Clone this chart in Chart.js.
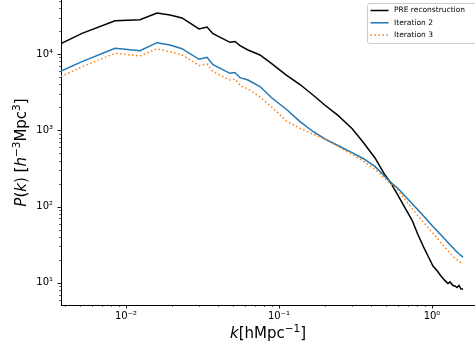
<!DOCTYPE html>
<html>
<head>
<meta charset="utf-8">
<script src="https://cdn.jsdelivr.net/npm/chart.js@4/dist/chart.umd.min.js"></script>
<style>
html, body { margin: 0; padding: 0; background: #fff; }
#wrap { width: 475px; height: 349px; }
</style>
</head>
<body>
<div id="wrap"><canvas id="pkChart" width="475" height="349"></canvas></div>
<script>
// wavenumber bins k [h/Mpc]
const kValues = [0.00376, 0.00516, 0.00848, 0.01234, 0.01594, 0.01939, 0.02323, 0.0300, 0.03383, 0.03704,
	0.04782, 0.05159, 0.05563, 0.06271, 0.0751, 0.090, 0.1111, 0.1372, 0.1668, 0.1998,
	0.2429, 0.2999, 0.354, 0.4241, 0.493, 0.5314, 0.5995, 0.6662, 0.7402, 0.810,
	0.8865, 0.9417, 1.015, 1.078, 1.145, 1.216, 1.272, 1.311, 1.372, 1.413,
	1.457, 1.502, 1.547, 1.595];

// P(k) for each series
const preRecon = [13650, 18660, 27300, 28180, 34450, 32430, 29640, 21280, 22600, 18450,
	14230, 14580, 12850, 11280, 9700, 7400, 5310, 3980, 2900, 2130,
	1565, 1057, 703, 434, 259, 212, 140, 96, 66.7, 42.8,
	28.7, 22.5, 16.6, 14.5, 12.3, 10.7, 9.8, 10.3, 9.25, 9.1,
	8.7, 9.25, 8.3, 8.3];
const iteration2 = [5990, 7930, 11880, 11050, 14060, 13120, 11730, 8520, 9060, 7240,
	5580, 5730, 4890, 4560, 3750, 2650, 1900, 1297, 964, 769,
	632, 509, 427, 336, 248, 212, 173, 138, 110, 90,
	74, 64.7, 54.8, 48.3, 42.5, 37.3, 33.9, 31.7, 28.8, 27.0,
	25.4, 23.9, 22.9, 21.7];
const iteration3 = [5040, 6820, 10200, 9420, 11700, 10700, 9700, 7090, 7400, 5880,
	4560, 4700, 3890, 3480, 2730, 2000, 1337, 1062, 889, 769,
	614, 482, 396, 311, 233, 202, 163, 124, 95, 75.7,
	61.1, 53.2, 44.7, 38.8, 33.6, 29.3, 26.4, 24.6, 22.2, 21.2,
	20.1, 19.2, 18.3, 17.5];

const seriesLabels = ['PRE reconstruction', 'Iteration 2', 'Iteration 3'];
const seriesColors = ['#000000', '#1f77b4', '#ff7f0e'];

const xTickValues = [0.01, 0.1, 1];
const xTickLabels = ['10\u207B\u00B2', '10\u207B\u00B9', '10\u2070'];
const yTickValues = [10, 100, 1000, 10000];
const yTickLabels = ['10\u00B9', '10\u00B2', '10\u00B3', '10\u2074'];

const FONT = '"DejaVu Sans", sans-serif';

function toPoints(vals) {
	return kValues.map((k, i) => ({ x: k, y: vals[i] }));
}

// draw a string made of plain / italic / superscript parts, centred on 0
function drawRich(ctx, parts, size) {
	let total = 0;
	parts.forEach(p => {
		ctx.font = (p.it ? 'italic ' : '') + (p.sup ? size * 0.7 : size) + 'px ' + FONT;
		p.w = ctx.measureText(p.t).width;
		total += p.w;
	});
	let x = -total / 2;
	parts.forEach(p => {
		ctx.font = (p.it ? 'italic ' : '') + (p.sup ? size * 0.7 : size) + 'px ' + FONT;
		ctx.fillText(p.t, x, p.sup ? -size * 0.42 : 0);
		x += p.w;
	});
}

const axisDecor = {
	id: 'axisDecor',
	afterDraw(chart) {
		const ctx = chart.ctx;
		const xs = chart.scales.x, ys = chart.scales.y;
		const area = chart.chartArea;
		ctx.save();
		ctx.strokeStyle = '#000';
		// tick marks, major + minor (log)
		for (let e = -3; e <= 1; e++) {
			for (let m = 1; m <= 9; m++) {
				const v = m * Math.pow(10, e);
				if (v < xs.min || v > xs.max) continue;
				const px = Math.round(xs.getPixelForValue(v)) + 0.5;
				ctx.lineWidth = m === 1 ? 0.9 : 0.6;
				ctx.beginPath();
				ctx.moveTo(px, area.bottom);
				ctx.lineTo(px, area.bottom + (m === 1 ? 3.5 : 2));
				ctx.stroke();
			}
		}
		for (let e = 0; e <= 5; e++) {
			for (let m = 1; m <= 9; m++) {
				const v = m * Math.pow(10, e);
				if (v < ys.min || v > ys.max) continue;
				const py = Math.round(ys.getPixelForValue(v)) + 0.5;
				ctx.lineWidth = m === 1 ? 0.9 : 0.6;
				ctx.beginPath();
				ctx.moveTo(area.left, py);
				ctx.lineTo(area.left - (m === 1 ? 3.5 : 2), py);
				ctx.stroke();
			}
		}

		// axis titles
		ctx.fillStyle = '#000';
		ctx.textBaseline = 'alphabetic';
		ctx.textAlign = 'left';
		ctx.save();
		ctx.translate((area.left + area.right) / 2, 338);
		drawRich(ctx, [
			{ t: 'k', it: true }, { t: '[hMpc' }, { t: '\u22121', sup: true }, { t: ']' }
		], 15);
		ctx.restore();

		ctx.save();
		ctx.translate(26, (area.top + area.bottom) / 2);
		ctx.rotate(-Math.PI / 2);
		drawRich(ctx, [
			{ t: 'P', it: true }, { t: '(' }, { t: 'k', it: true }, { t: ') [' },
			{ t: 'h', it: true }, { t: '\u22123', sup: true }, { t: 'Mpc' }, { t: '3', sup: true }, { t: ']' }
		], 15);
		ctx.restore();

		// legend box
		const lx = 367.5, ly = 3.5, lw = 130, lh = 40, r = 2.5;
		ctx.beginPath();
		ctx.moveTo(lx + r, ly);
		ctx.lineTo(lx + lw - r, ly);
		ctx.arcTo(lx + lw, ly, lx + lw, ly + r, r);
		ctx.lineTo(lx + lw, ly + lh - r);
		ctx.arcTo(lx + lw, ly + lh, lx + lw - r, ly + lh, r);
		ctx.lineTo(lx + r, ly + lh);
		ctx.arcTo(lx, ly + lh, lx, ly + lh - r, r);
		ctx.lineTo(lx, ly + r);
		ctx.arcTo(lx, ly, lx + r, ly, r);
		ctx.closePath();
		ctx.fillStyle = 'rgba(255,255,255,0.8)';
		ctx.fill();
		ctx.strokeStyle = '#cccccc';
		ctx.lineWidth = 1;
		ctx.stroke();

		ctx.font = '7.5px ' + FONT;
		ctx.textBaseline = 'middle';
		chart.data.datasets.forEach((ds, i) => {
			const y = 10.5 + i * 12.3;
			ctx.strokeStyle = ds.borderColor;
			ctx.lineWidth = 1.5;
			ctx.setLineDash(ds.borderDash || []);
			ctx.beginPath();
			ctx.moveTo(370.5, y);
			ctx.lineTo(388.5, y);
			ctx.stroke();
			ctx.setLineDash([]);
			ctx.fillStyle = '#000';
			ctx.fillText(ds.label, 394, y);
		});
		ctx.restore();
	}
};

const ctxPk = document.getElementById('pkChart').getContext('2d');
const pkChart = new Chart(ctxPk, {
	type: 'line',
	data: {
		datasets: [{
			label: seriesLabels[0],
			data: toPoints(preRecon),
			borderColor: seriesColors[0],
			borderWidth: 1.5,
			order: 3
		}, {
			label: seriesLabels[1],
			data: toPoints(iteration2),
			borderColor: seriesColors[1],
			borderWidth: 1.5,
			order: 2
		}, {
			label: seriesLabels[2],
			data: toPoints(iteration3),
			borderColor: seriesColors[2],
			borderWidth: 1.5,
			borderDash: [1.5, 2.5],
			order: 1
		}]
	},
	options: {
		responsive: false,
		animation: false,
		devicePixelRatio: 1,
		layout: { padding: 0 },
		elements: {
			point: { radius: 0 },
			line: { tension: 0, fill: false }
		},
		plugins: {
			legend: { display: false },
			tooltip: { enabled: false }
		},
		scales: {
			x: {
				type: 'logarithmic',
				position: 'bottom',
				min: 0.00376,
				max: 1.91,
				afterBuildTicks: s => { s.ticks = xTickValues.map(v => ({ value: v })); },
				afterFit: s => { s.height = 44; s.paddingLeft = 0; s.paddingRight = 0; },
				grid: { display: false, drawTicks: false },
				border: { display: true, color: '#000', width: 1 },
				ticks: {
					autoSkip: false,
					maxRotation: 0,
					padding: 5,
					color: '#000',
					font: { family: FONT, size: 10 },
					callback: (v, i) => xTickLabels[i]
				}
			},
			y: {
				type: 'logarithmic',
				position: 'left',
				min: 5.13,
				max: 51000,
				afterBuildTicks: s => { s.ticks = yTickValues.map(v => ({ value: v })); },
				afterFit: s => { s.width = 61; s.paddingTop = 0; s.paddingBottom = 0; },
				grid: { display: false, drawTicks: false },
				border: { display: true, color: '#000', width: 1 },
				ticks: {
					autoSkip: false,
					padding: 8,
					color: '#000',
					font: { family: FONT, size: 10 },
					callback: (v, i) => yTickLabels[i]
				}
			}
		}
	},
	plugins: [axisDecor]
});
</script>
</body>
</html>
